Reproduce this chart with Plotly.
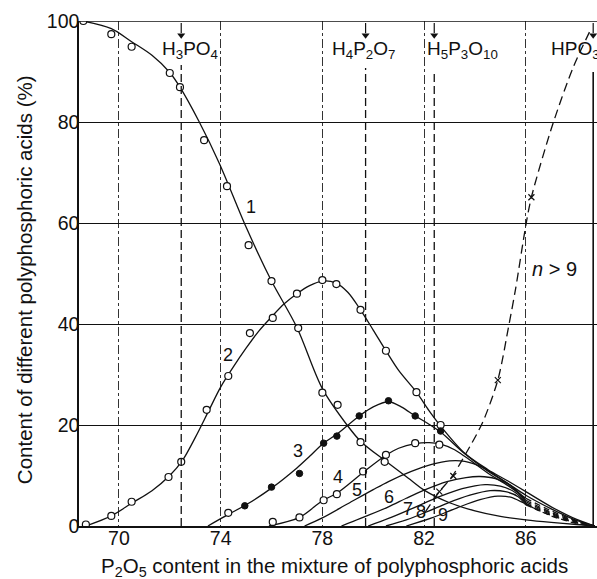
import plotly.graph_objects as go

FONT = "Liberation Sans, Arial, sans-serif"
INK = "#111111"

# ---------------- data ----------------
# Curve 1 (orthophosphoric acid) : measured points and smooth line
c1_px = [68.6, 69.7, 70.5, 72.0, 72.4, 73.35, 74.25, 75.1, 76.0, 77.05, 78.0, 78.6, 79.5, 80.45]
c1_py = [100, 97.4, 94.9, 89.7, 86.9, 76.4, 67.3, 55.6, 48.5, 39.2, 26.4, 24.0, 16.6, 12.7]
c1_lx = [68.6, 69.7, 70.5, 71.3, 72.0, 72.4, 73.15, 73.95, 75.0, 76.0, 77.0, 78.0, 79.0, 79.5,
         80.5, 81.5, 82.0, 83.0, 84.0, 85.0, 86.0, 87.0, 88.0, 88.7]
c1_ly = [100, 98.5, 95.9, 93.2, 89.8, 86.9, 80.1, 71.8, 59.2, 48.5, 39.3, 27.2, 19.8, 16.8,
         12.8, 9.0, 7.1, 4.6, 3.0, 1.9, 1.2, 0.7, 0.3, 0.0]

# Curve 2 (pyrophosphoric acid)
c2_px = [68.7, 69.7, 70.5, 71.95, 72.45, 73.45, 74.3, 75.15, 76.05, 77.0, 78.0, 78.55, 79.5,
         80.5, 81.7, 82.65]
c2_py = [0.3, 2.0, 4.8, 9.7, 12.7, 23.0, 29.7, 38.2, 41.2, 46.0, 48.7, 47.9, 42.8, 34.7, 26.5, 20.0]
c2_lx = [68.7, 69.7, 70.5, 71.3, 72.0, 72.5, 73.0, 73.5, 74.0, 74.5, 75.0, 75.5, 76.0, 76.5, 77.0,
         77.5, 78.0, 78.5, 79.0, 79.5, 80.0, 80.5, 81.0, 81.7, 82.2, 82.65, 83.6, 84.5, 85.3, 86.0,
         87.0, 88.0, 88.7]
c2_ly = [0.0, 2.0, 4.5, 7.0, 10.0, 13.0, 17.5, 22.5, 27.5, 31.5, 35.2, 38.6, 41.4, 44.0, 46.0,
         47.6, 48.5, 48.2, 46.3, 42.8, 38.8, 34.7, 30.8, 26.5, 22.8, 19.8, 14.4, 11.2, 8.9, 6.8,
         3.8, 1.3, 0.0]

# Curve 3 (tripolyphosphoric acid) : first point open, rest filled
c3_px = [74.3, 74.95, 76.0, 77.1, 78.05, 78.57, 79.45, 80.6, 81.65, 82.65]
c3_py = [2.6, 4.0, 7.7, 10.4, 16.4, 17.8, 21.8, 24.8, 21.8, 18.8]
c3_lx = [73.5, 74.3, 75.0, 76.0, 77.0, 77.5, 78.0, 78.6, 79.45, 80.0, 80.6, 81.1, 81.65, 82.15,
         82.65, 83.6, 84.5, 85.3, 86.0, 87.0, 88.0, 88.7]
c3_ly = [0.0, 2.3, 4.2, 7.5, 11.5, 13.8, 16.2, 18.3, 21.8, 23.6, 24.6, 23.6, 21.8, 20.3,
         18.6, 14.3, 10.9, 8.4, 6.1, 3.4, 1.1, 0.0]

# Curve 4
c4_px = [76.05, 77.1, 78.05, 78.57, 79.6, 80.5, 81.65, 82.6]
c4_py = [0.8, 1.7, 5.1, 6.3, 10.8, 14.1, 16.4, 16.1]
c4_lx = [75.9, 77.1, 78.0, 78.6, 79.6, 80.5, 81.0, 81.65, 82.2, 82.65, 83.2, 83.65, 84.5,
         85.3, 86.0, 87.0, 88.0, 88.7]
c4_ly = [0.0, 1.7, 5.0, 6.6, 10.6, 14.0, 15.4, 16.3, 16.5, 16.2, 15.1, 13.6, 10.5,
         8.0, 5.5, 3.0, 1.0, 0.0]

# Curves 5 - 9 (lines only)
c5_lx = [77.3, 78.0, 79.0, 80.0, 80.6, 81.5, 82.3, 83.0, 83.6, 84.3, 85.0, 85.6, 86.0, 87.0, 88.0, 88.7]
c5_ly = [0.0, 1.6, 4.4, 7.2, 8.8, 10.8, 12.2, 12.9, 12.8, 11.6, 9.4, 7.2, 5.1, 2.7, 0.9, 0.0]
c6_lx = [78.75, 79.5, 80.6, 81.3, 82.0, 82.9, 83.65, 84.2, 84.8, 85.4, 86.0, 87.0, 88.0, 88.7]
c6_ly = [0.0, 1.5, 3.8, 5.5, 7.1, 8.8, 9.6, 9.8, 9.4, 8.0, 4.8, 2.5, 0.8, 0.0]
c7_lx = [79.8, 80.6, 81.5, 82.6, 83.5, 84.4, 85.0, 85.6, 86.0, 87.0, 88.0, 88.7]
c7_ly = [0.0, 1.5, 3.4, 5.8, 7.4, 8.2, 7.9, 6.6, 4.5, 2.3, 0.7, 0.0]
c8_lx = [80.5, 81.3, 82.2, 82.9, 83.8, 84.6, 85.2, 85.7, 86.0, 87.0, 88.0, 88.7]
c8_ly = [0.0, 1.2, 3.0, 4.5, 6.1, 7.0, 6.8, 5.8, 4.2, 2.1, 0.6, 0.0]
c9_lx = [81.3, 82.3, 83.3, 84.2, 84.9, 85.4, 85.9, 86.3, 87.0, 88.0, 88.7]
c9_ly = [0.0, 1.6, 3.6, 5.2, 5.9, 5.7, 4.6, 3.6, 2.0, 0.5, 0.0]

# n > 9 (dashed) curve and its cross marks
cn_lx = [82.05, 82.6, 83.1, 83.65, 84.3, 84.9, 85.35, 85.6, 86.0, 86.22, 87.05, 87.87, 88.58]
cn_ly = [2.8, 6.8, 9.8, 14.4, 20.5, 28.9, 40.2, 47.0, 59.5, 65.1, 79.4, 90.9, 98.6]
cn_px = [82.6, 83.15, 84.9, 86.22]
cn_py = [6.8, 9.9, 28.9, 65.1]

# Composition markers
comp_x = [72.45, 79.7, 82.4, 88.65]
comp_line_top = [91.3, 90.7, 90.3, 89.9]
comp_labels = ["H<sub>3</sub>PO<sub>4</sub>", "H<sub>4</sub>P<sub>2</sub>O<sub>7</sub>",
               "H<sub>5</sub>P<sub>3</sub>O<sub>10</sub>", "HPO<sub>3</sub>"]
comp_label_x = [72.8, 79.6, 83.5, 86.9]
comp_label_anchor = ["center", "center", "center", "left"]
comp_label_y = 94.3
arrow_top_y = 99.6
arrow_tip_y = 96.6

# Curve number labels
num_text = ["1", "2", "3", "4", "5", "6", "7", "8", "9"]
num_x = [75.2, 74.29, 77.03, 78.6, 79.38, 80.63, 81.35, 81.88, 82.73]
num_y = [63.2, 33.9, 14.9, 9.8, 7.1, 5.8, 3.4, 2.8, 2.2]

x_ticks = [70, 74, 78, 82, 86]
y_ticks = [0, 20, 40, 60, 80, 100]
x_range = [68.43, 88.8]
y_range = [0, 100]

# ---------------- figure ----------------
fig = go.Figure()


def add_line(xs, ys, dash_from=None, width=1.3):
    if dash_from is None:
        parts = [(xs, ys, "solid")]
    else:
        i = next(k for k, v in enumerate(xs) if v >= dash_from)
        parts = [(xs[:i + 1], ys[:i + 1], "solid"), (xs[i:], ys[i:], "6px,4px")]
    for px, py, d in parts:
        fig.add_trace(go.Scatter(x=px, y=py, mode="lines",
                                 line=dict(color=INK, width=width, shape="spline",
                                           smoothing=0.9, dash=d),
                                 hoverinfo="skip", showlegend=False))


add_line(c1_lx, c1_ly)
add_line(c2_lx, c2_ly)
add_line(c3_lx, c3_ly)
add_line(c4_lx, c4_ly, dash_from=86.0)
add_line(c5_lx, c5_ly, dash_from=86.0)
add_line(c6_lx, c6_ly, dash_from=86.0)
add_line(c7_lx, c7_ly, dash_from=86.0)
add_line(c8_lx, c8_ly, dash_from=86.0)
add_line(c9_lx, c9_ly, dash_from=86.0)

fig.add_trace(go.Scatter(x=cn_lx, y=cn_ly, mode="lines",
                         line=dict(color=INK, width=1.3, shape="spline", smoothing=0.8,
                                   dash="9px,5px"),
                         hoverinfo="skip", showlegend=False))
fig.add_trace(go.Scatter(x=cn_px, y=cn_py, mode="markers",
                         marker=dict(symbol="x-thin", size=6, line=dict(color=INK, width=1.2)),
                         hoverinfo="skip", showlegend=False))

open_marker = dict(symbol="circle", size=7, color="white", line=dict(color=INK, width=1.2))
for mx, my in [(c1_px, c1_py), (c2_px, c2_py), (c4_px, c4_py), (c3_px[:1], c3_py[:1])]:
    fig.add_trace(go.Scatter(x=mx, y=my, mode="markers", marker=open_marker,
                             hoverinfo="skip", showlegend=False))
fig.add_trace(go.Scatter(x=c3_px[1:], y=c3_py[1:], mode="markers",
                         marker=dict(symbol="circle", size=6.5, color=INK,
                                     line=dict(color=INK, width=1)),
                         hoverinfo="skip", showlegend=False))

# arrowheads at the composition marks (down-pointing triangles)
fig.add_trace(go.Scatter(x=comp_x, y=[arrow_tip_y + 0.6] * len(comp_x), mode="markers",
                         marker=dict(symbol="triangle-down", size=7, color=INK),
                         hoverinfo="skip", showlegend=False))

shapes = []
# top border at 100
shapes.append(dict(type="line", xref="x", yref="y", x0=x_range[0], x1=x_range[1], y0=100, y1=100,
                   line=dict(color=INK, width=1.3)))
# composition dashed lines and arrow shafts
for i, cx in enumerate(comp_x):
    shapes.append(dict(type="line", xref="x", yref="y", x0=cx, x1=cx, y0=0, y1=comp_line_top[i],
                       line=dict(color=INK, width=1.3 if i < 3 else 1.6,
                                 dash="8px,4px" if i < 3 else "solid")))
    shapes.append(dict(type="line", xref="x", yref="y", x0=cx, x1=cx, y0=arrow_tip_y + 1.0,
                       y1=arrow_top_y, line=dict(color=INK, width=1.2)))

annotations = []
for i, cx in enumerate(comp_x):
    annotations.append(dict(x=comp_label_x[i], y=comp_label_y, xref="x", yref="y",
                            text=comp_labels[i], showarrow=False, xanchor=comp_label_anchor[i],
                            yanchor="middle", font=dict(family=FONT, size=19, color=INK)))
for t, nx, ny in zip(num_text, num_x, num_y):
    annotations.append(dict(x=nx, y=ny, xref="x", yref="y", text=t, showarrow=False,
                            xanchor="center", yanchor="middle",
                            font=dict(family=FONT, size=18, color=INK)))
annotations.append(dict(x=87.13, y=50.9, xref="x", yref="y", text="<i>n</i> &gt; 9",
                        showarrow=False, xanchor="center", yanchor="middle",
                        font=dict(family=FONT, size=20, color=INK)))
# axis titles
annotations.append(dict(x=0.493, y=-0.0812, xref="paper", yref="paper",
                        text="P<sub>2</sub>O<sub>5</sub> content in the mixture of polyphosphoric acids",
                        showarrow=False, xanchor="center", yanchor="middle",
                        font=dict(family=FONT, size=20.5, color=INK)))
annotations.append(dict(x=-0.106, y=0.487, xref="paper", yref="paper", textangle=-90,
                        text="Content of different polyphosphoric acids (%)",
                        showarrow=False, xanchor="center", yanchor="middle",
                        font=dict(family=FONT, size=20.5, color=INK)))

fig.update_layout(
    width=597, height=579,
    margin=dict(l=79, r=0, t=21, b=53),
    plot_bgcolor="white", paper_bgcolor="white",
    shapes=shapes, annotations=annotations,
    showlegend=False,
    xaxis=dict(range=x_range, tickvals=x_ticks, ticktext=[str(v) for v in x_ticks],
               showgrid=True, gridcolor="#333333", gridwidth=1, griddash="dashdot",
               showline=True, linecolor=INK, linewidth=1.5, zeroline=False,
               ticks="", ticklabelstandoff=-6,
               tickfont=dict(family=FONT, size=19.5, color=INK)),
    yaxis=dict(range=y_range, tickvals=y_ticks, ticktext=[str(v) for v in y_ticks],
               showgrid=True, gridcolor=INK, gridwidth=1.2,
               showline=True, linecolor=INK, linewidth=1.5, zeroline=False,
               ticks="", ticklabelstandoff=-6,
               tickfont=dict(family=FONT, size=19.5, color=INK)),
)

fig.write_html("out.html")
